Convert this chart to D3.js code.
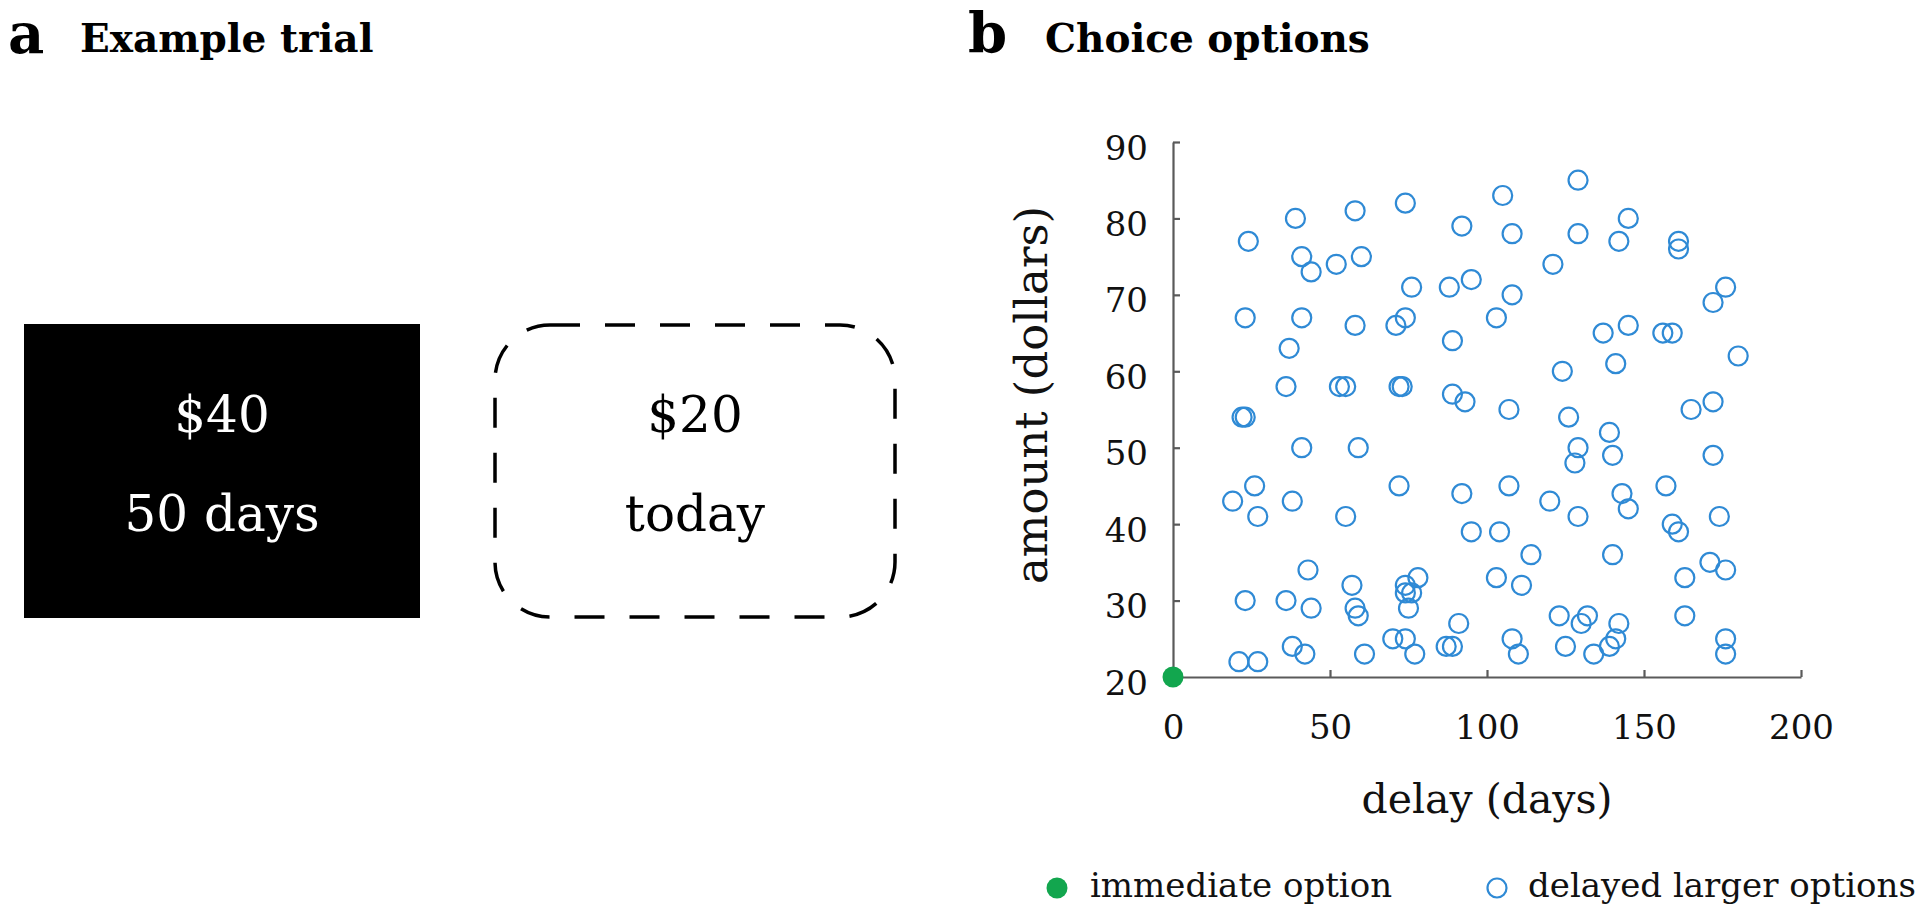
<!DOCTYPE html>
<html>
<head>
<meta charset="utf-8">
<script src="https://cdn.jsdelivr.net/npm/d3@7"></script>
<style>
  html, body { margin: 0; padding: 0; background: #fff; }
  svg { display: block; }
  text { font-family: "DejaVu Serif", serif; }
</style>
</head>
<body>
<svg id="chart" width="1920" height="911"></svg>
<script>
// ---- data ----
const trialAmounts = ["$40", "$20"];
const trialDelays = ["50 days", "today"];

const xTicks = [0, 50, 100, 150, 200];
const yTicks = [20, 30, 40, 50, 60, 70, 80, 90];

const immediateDelay = [0];
const immediateAmount = [20];

const delayedDays = [
  24, 39, 58, 74, 105, 92, 41, 44, 52, 60, 76, 88, 95, 23, 41, 58, 71, 74, 103, 89, 37, 36, 53, 55, 72, 73, 89, 93, 22, 23,
  129, 108, 129, 145, 142, 161, 161, 121, 108, 176, 172, 137, 145, 156, 159, 180, 124, 141, 107, 126, 165, 172,
  41, 59, 26, 19, 27, 38, 55, 72, 92, 95, 43, 57, 78, 74, 74, 76, 75, 23, 36, 44, 58, 59, 91, 38, 42, 61, 70, 74, 77, 87, 89, 21, 27,
  139, 129, 128, 140, 172, 107, 120, 129, 143, 145, 157, 159, 161, 174, 104, 114, 140, 103, 111, 163, 171, 176, 123, 132, 130, 142, 141, 139, 134, 125, 108, 110, 163, 176, 176
];
const delayedAmounts = [
  77, 80, 81, 82, 83, 79, 75, 73, 74, 75, 71, 71, 72, 67, 67, 66, 66, 67, 67, 64, 63, 58, 58, 58, 58, 58, 57, 56, 54, 54,
  85, 78, 78, 80, 77, 77, 76, 74, 70, 71, 69, 65, 66, 65, 65, 62, 60, 61, 55, 54, 55, 56,
  50, 50, 45, 43, 41, 43, 41, 45, 44, 39, 34, 32, 33, 32, 31, 31, 29, 30, 30, 29, 29, 28, 27, 24, 23, 23, 25, 25, 23, 24, 24, 22, 22,
  52, 50, 48, 49, 49, 45, 43, 41, 44, 42, 45, 40, 39, 41, 39, 36, 36, 33, 32, 33, 35, 34, 28, 28, 27, 27, 25, 24, 23, 24, 25, 23, 28, 25, 23
];

const legendLabels = ["immediate option", "delayed larger options"];

// ---- drawing ----
const svg = d3.select("#chart");
const blue = "#2f8ad5";
const green = "#12a64e";
const axisColor = "#5a5a5a";

// Panel titles
function panelTitle(letter, title, xLetter, xTitle) {
  svg.append("text").attr("x", xLetter).attr("y", 53)
    .attr("font-size", 56).attr("font-weight", "bold").attr("fill", "#000")
    .text(letter);
  svg.append("text").attr("x", xTitle).attr("y", 52)
    .attr("font-size", 39).attr("font-weight", "bold").attr("fill", "#000")
    .text(title);
}
panelTitle("a", "Example trial", 8, 80);
panelTitle("b", "Choice options", 968, 1045);

// Panel a: example trial boxes
const boxes = [
  {x: 24, y: 324, w: 396, h: 294, filled: true},
  {x: 495, y: 325, w: 400, h: 292, filled: false}
];
boxes.forEach((b, i) => {
  const r = svg.append("rect").attr("x", b.x).attr("y", b.y)
    .attr("width", b.w).attr("height", b.h);
  if (b.filled) {
    r.attr("fill", "#000");
  } else {
    r.attr("fill", "none").attr("stroke", "#000").attr("stroke-width", 3.5)
      .attr("rx", 55).attr("ry", 55).attr("stroke-dasharray", "30 25");
  }
  const cx = b.x + b.w / 2;
  const col = b.filled ? "#fff" : "#000";
  svg.append("text").attr("x", cx).attr("y", 432).attr("text-anchor", "middle")
    .attr("font-size", 50).attr("fill", col).text(trialAmounts[i]);
  svg.append("text").attr("x", cx).attr("y", 531).attr("text-anchor", "middle")
    .attr("font-size", 50).attr("fill", col).text(trialDelays[i]);
});

// Panel b: scatter
const x = d3.scaleLinear().domain([0, 200]).range([1173, 1801]);
const y = d3.scaleLinear().domain([20, 90]).range([677, 142]);

const gx = svg.append("g").attr("transform", `translate(0,${y(20)})`)
  .call(d3.axisBottom(x).tickValues(xTicks).tickSize(-7).tickSizeOuter(0).tickPadding(38));
const gy = svg.append("g").attr("transform", `translate(${x(0)},0)`)
  .call(d3.axisLeft(y).tickValues(yTicks).tickSize(-7).tickSizeOuter(0).tickPadding(25));

[gx, gy].forEach(g => {
  g.select(".domain").attr("stroke", axisColor).attr("stroke-width", 2.2);
  g.selectAll(".tick line").attr("stroke", axisColor).attr("stroke-width", 2.2);
  g.selectAll(".tick text").attr("font-family", "DejaVu Serif").attr("font-size", 34).attr("fill", "#111");
});
gy.selectAll(".tick text").attr("dy", "0.5em");
gy.selectAll(".tick").filter(d => d === 20).select("line").remove();
gx.selectAll(".tick").filter(d => d === 0).select("line").remove();

// axis labels
svg.append("text").attr("x", (x(0) + x(200)) / 2).attr("y", 813)
  .attr("text-anchor", "middle").attr("font-size", 41).attr("fill", "#111")
  .text("delay (days)");
svg.append("text").attr("transform", `translate(1047,395) rotate(-90)`)
  .attr("text-anchor", "middle").attr("font-size", 45).attr("fill", "#111")
  .text("amount (dollars)");

// delayed options
const delayedData = delayedDays.map((d, i) => ({d, a: delayedAmounts[i]}));
svg.append("g").selectAll("circle").data(delayedData).join("circle")
  .attr("cx", p => x(p.d)).attr("cy", p => y(p.a)).attr("r", 9.5)
  .attr("fill", "none").attr("stroke", blue).attr("stroke-width", 2.2);

// immediate option
const immData = immediateDelay.map((d, i) => ({d, a: immediateAmount[i]}));
svg.append("g").selectAll("circle").data(immData).join("circle")
  .attr("cx", p => x(p.d)).attr("cy", p => y(p.a)).attr("r", 10.5)
  .attr("fill", green);

// legend
const legY = 888;
svg.append("circle").attr("cx", 1057).attr("cy", legY).attr("r", 10.5).attr("fill", green);
svg.append("text").attr("x", 1090).attr("y", legY + 9).attr("font-size", 34).attr("fill", "#111")
  .text(legendLabels[0]);
svg.append("circle").attr("cx", 1497).attr("cy", legY).attr("r", 9.5)
  .attr("fill", "none").attr("stroke", blue).attr("stroke-width", 2.2);
svg.append("text").attr("x", 1528).attr("y", legY + 9).attr("font-size", 34).attr("fill", "#111")
  .text(legendLabels[1]);
</script>
</body>
</html>
